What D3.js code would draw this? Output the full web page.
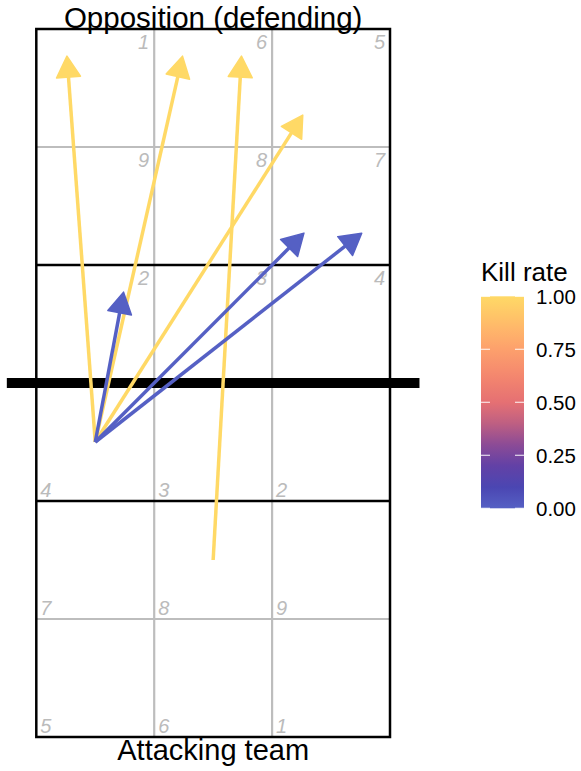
<!DOCTYPE html>
<html>
<head>
<meta charset="utf-8">
<script src="https://cdn.jsdelivr.net/npm/d3@7"></script>
<style>
  html, body { margin: 0; padding: 0; background: #fff; }
  svg { display: block; font-family: "Liberation Sans", Arial, Helvetica, sans-serif; }
</style>
</head>
<body>
<svg id="chart" width="581" height="771"></svg>
<script>
// ---- data ----
const startX   = [1, 1, 2, 1, 1, 1, 1];
const startY   = [3, 3, 2, 3, 3, 3, 3];
const endX     = [0.76, 1.74, 2.24, 2.76, 2.77, 3.26, 1.24];
const endY     = [6.27, 6.27, 6.27, 5.77, 4.77, 4.77, 4.27];
const killRate = [1, 1, 1, 1, 0, 0, 0];

const zonesBottom = [["4","3","2"],["7","8","9"],["5","6","1"]];   // rows near net -> back
const zonesTop    = [["2","3","4"],["9","8","7"],["1","6","5"]];   // rows near net -> back
const legendTicks = [0, 0.25, 0.5, 0.75, 1];
const legendTitle = "Kill rate";
const topLabel = "Opposition (defending)";
const bottomLabel = "Attacking team";

const gradStops = [0, 0.1, 0.2, 0.3, 0.4, 0.5, 0.625, 0.75, 0.875, 1];
const gradCols  = ["#5560C4", "#4B46B2", "#6241A6", "#8C4B96", "#BE5F82", "#E57073", "#F4876E", "#FDA06C", "#FFBD69", "#FFD966"];

// ---- scales ----
const svg = d3.select("#chart");
const x = d3.scaleLinear().domain([0.5, 3.5]).range([36.3, 390]);
const y = d3.scaleLinear().domain([0.5, 6.5]).range([737, 29]);
const colour = d3.scaleLinear().domain(gradStops).range(gradCols).interpolate(d3.interpolateRgb);

const grey = "#BDBDBD";
const g = svg.append("g");

// grey zone lines
[1.5, 2.5].forEach(v => {
  g.append("line").attr("x1", x(v)).attr("x2", x(v)).attr("y1", y(0.5)).attr("y2", y(6.5))
    .attr("stroke", grey).attr("stroke-width", 2.2);
});
[1.5, 5.5].forEach(v => {
  g.append("line").attr("x1", x(0.5)).attr("x2", x(3.5)).attr("y1", y(v)).attr("y2", y(v))
    .attr("stroke", grey).attr("stroke-width", 2.2);
});
// 3m lines
[2.5, 4.5].forEach(v => {
  g.append("line").attr("x1", x(0.5)).attr("x2", x(3.5)).attr("y1", y(v)).attr("y2", y(v))
    .attr("stroke", "#000").attr("stroke-width", 2.3);
});
// court outline
g.append("rect").attr("x", x(0.5)).attr("y", y(6.5)).attr("width", x(3.5) - x(0.5)).attr("height", y(0.5) - y(6.5))
  .attr("fill", "none").attr("stroke", "#000").attr("stroke-width", 2.5);
// net
g.append("line").attr("x1", x(0.25)).attr("x2", x(3.75)).attr("y1", y(3.5)).attr("y2", y(3.5))
  .attr("stroke", "#000").attr("stroke-width", 10);

// zone labels
const lab = svg.append("g").attr("fill", "#BBBBBB").style("font-size", "20px").style("font-style", "italic");
zonesBottom.forEach((row, r) => {
  row.forEach((z, c) => {
    lab.append("text").attr("x", x(0.5 + c) + 4).attr("y", y(2.5 - r) - 4).text(z);
  });
});
zonesTop.forEach((row, r) => {
  row.forEach((z, c) => {
    lab.append("text").attr("x", x(1.5 + c) - 5).attr("y", y(4.5 + r) + 19.5).attr("text-anchor", "end").text(z);
  });
});

// arrows (yellow first, then blue on top)
const idx = d3.range(killRate.length).sort((a, b) => d3.descending(killRate[a], killRate[b]) || a - b);
const ag = svg.append("g");
const headLen = 21, headHalf = 12;
idx.forEach(i => {
  const x0 = x(startX[i]), y0 = y(startY[i]), x1 = x(endX[i]), y1 = y(endY[i]);
  const col = colour(killRate[i]);
  const dx = x1 - x0, dy = y1 - y0, L = Math.hypot(dx, dy);
  const ux = dx / L, uy = dy / L;
  const bx = x1 - ux * headLen, by = y1 - uy * headLen;
  ag.append("line").attr("x1", x0).attr("y1", y0).attr("x2", bx + ux * 2).attr("y2", by + uy * 2)
    .attr("stroke", col).attr("stroke-width", 3.5).attr("stroke-linecap", "butt");
  const pts = [[x1, y1], [bx - uy * headHalf, by + ux * headHalf], [bx + uy * headHalf, by - ux * headHalf]];
  ag.append("polygon").attr("points", pts.map(p => p.join(",")).join(" "))
    .attr("fill", col).attr("stroke", col).attr("stroke-width", 1.5).attr("stroke-linejoin", "round");
});

// axis titles
svg.append("text").attr("x", x(2)).attr("y", 28).attr("text-anchor", "middle")
  .style("font-size", "29.5px").attr("fill", "#000").text(topLabel);
svg.append("text").attr("x", x(2)).attr("y", 760).attr("text-anchor", "middle")
  .style("font-size", "29px").attr("fill", "#000").text(bottomLabel);

// legend
const lx = 481, lw = 43;
const ly = d3.scaleLinear().domain([0, 1]).range([508.3, 296.3]);
const defs = svg.append("defs");
const grad = defs.append("linearGradient").attr("id", "kg").attr("x1", 0).attr("y1", 1).attr("x2", 0).attr("y2", 0);
d3.range(0, 1.0001, 0.05).forEach(t => {
  grad.append("stop").attr("offset", t).attr("stop-color", colour(t));
});
const lg = svg.append("g");
lg.append("text").attr("x", 481).attr("y", 281).style("font-size", "26px").attr("fill", "#000").text(legendTitle);
lg.append("rect").attr("x", lx).attr("y", ly(1)).attr("width", lw).attr("height", ly(0) - ly(1)).attr("fill", "url(#kg)");
legendTicks.forEach(t => {
  lg.append("line").attr("x1", lx).attr("x2", lx + 9).attr("y1", ly(t)).attr("y2", ly(t))
    .attr("stroke", "#fff").attr("stroke-opacity", 0.8).attr("stroke-width", 1.2);
  lg.append("line").attr("x1", lx + lw - 9).attr("x2", lx + lw).attr("y1", ly(t)).attr("y2", ly(t))
    .attr("stroke", "#fff").attr("stroke-opacity", 0.8).attr("stroke-width", 1.2);
  lg.append("text").attr("x", 536).attr("y", ly(t) + 7.5).style("font-size", "20.5px").attr("fill", "#000")
    .text(d3.format(".2f")(t));
});
</script>
</body>
</html>
